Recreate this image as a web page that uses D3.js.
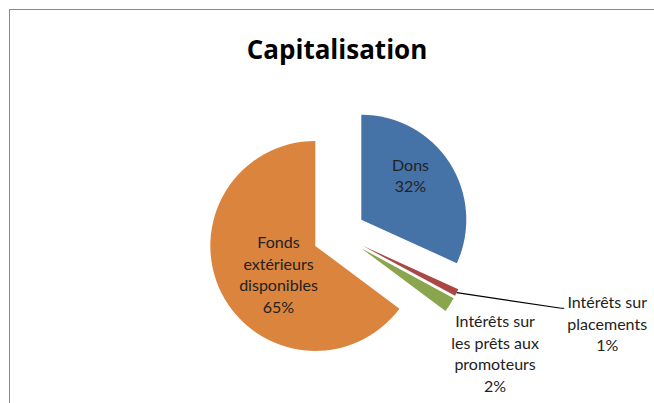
<!DOCTYPE html>
<html>
<head>
<meta charset="utf-8">
<script src="https://cdn.jsdelivr.net/npm/d3@7"></script>
<style>
  body { margin: 0; background: #fff; }
  svg { display: block; font-family: Lato, "Open Sans", sans-serif; font-variant-ligatures: none; }
</style>
</head>
<body>
<div class="canvas"></div>
<script>
// Data
const categories = ['Dons', 'Intérêts sur placements', 'Intérêts sur les prêts aux promoteurs', 'Fonds extérieurs disponibles']
const values = [31.8, 1.1, 2.3, 64.8]
const percentLabels = ['32%', '1%', '2%', '65%']
const labelLines = [
  ['Dons'],
  ['Intérêts sur', 'placements'],
  ['Intérêts sur', 'les prêts aux', 'promoteurs'],
  ['Fonds', 'extérieurs', 'disponibles']
]
const colors = ['#4572A7', '#AA4643', '#89A54E', '#DB843D']

const width = 654
const height = 403
const radius = 105
const explode = 26.5
const center = { x: 339, y: 234 }

// label placement: angle (deg, clockwise from 12 o'clock) and distance from pie centre
const labelPolar = [
  { a: 51, d: 92 },
  { a: 108.6, d: 283 },
  { a: 127.6, d: 197 },
  { a: 236, d: 73 }
]

const svg = d3.select('.canvas')
  .append('svg')
  .attr('width', width)
  .attr('height', height)

// chart frame (only top / left edges visible)
svg.append('rect')
  .attr('x', 9.5)
  .attr('y', 9.5)
  .attr('width', width + 20)
  .attr('height', height + 20)
  .attr('fill', 'none')
  .attr('stroke', '#8a8a8a')

svg.append('text')
  .attr('x', 337)
  .attr('y', 59)
  .attr('text-anchor', 'middle')
  .attr('font-family', '"Open Sans", sans-serif')
  .attr('font-size', 26)
  .attr('font-weight', 'bold')
  .text('Capitalisation')

const data = categories.map((c, i) => ({ name: c, value: values[i], i: i }))

const pie = d3.pie()
  .sort(null)
  .value(d => d.value)

const arc = d3.arc()
  .innerRadius(0)
  .outerRadius(radius)

const arcs = pie(data)

const graph = svg.append('g')
  .attr('transform', `translate(${center.x}, ${center.y})`)

graph.selectAll('path')
  .data(arcs)
  .enter()
  .append('path')
  .attr('d', arc)
  .attr('fill', d => colors[d.data.i])
  .attr('transform', d => {
    const mid = (d.startAngle + d.endAngle) / 2
    return `translate(${Math.sin(mid) * explode}, ${-Math.cos(mid) * explode})`
  })

// leader line for the small "placements" slice
const pl = arcs[1]
const plMid = (pl.startAngle + pl.endAngle) / 2
const lx0 = Math.sin(plMid) * (explode + radius)
const ly0 = -Math.cos(plMid) * (explode + radius)
const lp = labelPolar[1]
const lxText = Math.sin(lp.a * Math.PI / 180) * lp.d
const lyText = -Math.cos(lp.a * Math.PI / 180) * lp.d
graph.append('path')
  .attr('d', d3.line()([[lx0, ly0], [lxText - 46, lyText - 16], [lxText - 43, lyText - 16]]))
  .attr('fill', 'none')
  .attr('stroke', '#000')
  .attr('stroke-width', 1.2)

// labels
const lineH = 21.5
arcs.forEach((d, i) => {
  const lines = labelLines[i].concat([percentLabels[i]])
  const p = labelPolar[i]
  const x = Math.sin(p.a * Math.PI / 180) * p.d
  const y = -Math.cos(p.a * Math.PI / 180) * p.d
  const t = graph.append('text')
    .attr('text-anchor', 'middle')
    .attr('font-size', 16)
    .attr('fill', '#222')
  lines.forEach((l, k) => {
    t.append('tspan')
      .attr('x', x)
      .attr('y', y + (k - (lines.length - 1) / 2) * lineH + 5.5)
      .text(l)
  })
})
</script>
</body>
</html>
